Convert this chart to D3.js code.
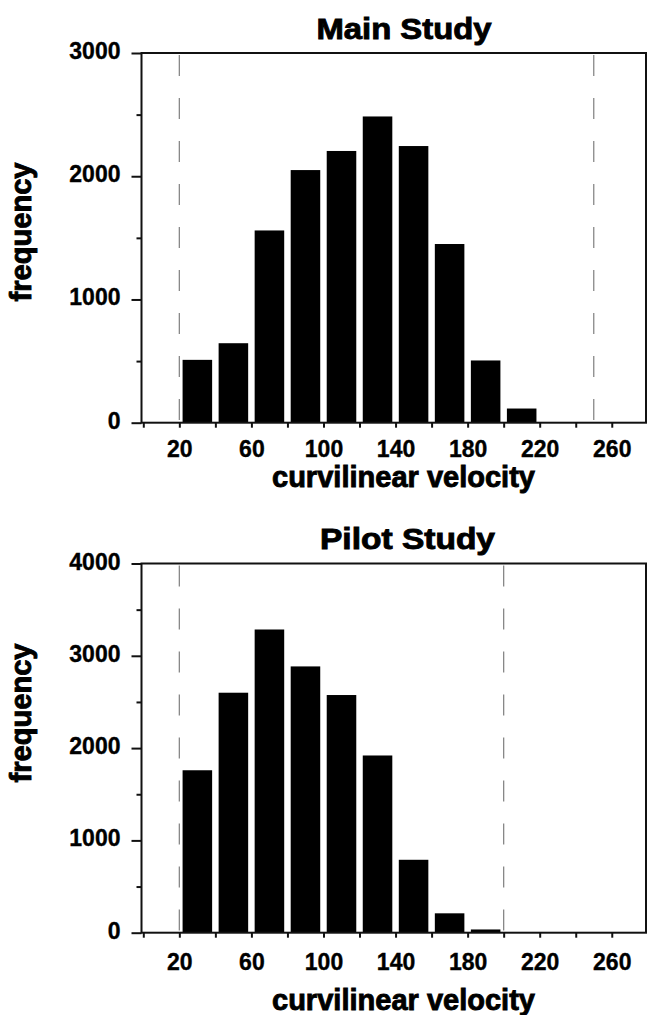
<!DOCTYPE html>
<html>
<head>
<meta charset="utf-8">
<script src="https://cdn.jsdelivr.net/npm/d3@7"></script>
<style>
  html, body { margin: 0; padding: 0; background: #ffffff; }
  svg { display: block; }
  text { font-family: "Liberation Sans", Arial, Helvetica, sans-serif; font-weight: bold; fill: #000; }
</style>
</head>
<body>
<svg id="chart" width="647" height="1015"></svg>
<script>
// ---- data ----
const binStarts = [20, 40, 60, 80, 100, 120, 140, 160, 180, 200];
const binWidth = 20;
const mainCounts = [510, 645, 1560, 2050, 2205, 2485, 2245, 1450, 505, 115];
const pilotCounts = [1760, 2600, 3285, 2885, 2575, 1920, 790, 210, 35];
const mainCutoffs = [20, 250];
const pilotCutoffs = [20, 200];
const xTickValues = [0, 20, 40, 60, 80, 100, 120, 140, 160, 180, 200, 220, 240, 260];
const xTickLabels = [20, 60, 100, 140, 180, 220, 260];
const mainYTicks = [0, 1000, 2000, 3000];
const mainYMinor = [500, 1500, 2500];
const pilotYTicks = [0, 1000, 2000, 3000, 4000];
const pilotYMinor = [500, 1500, 2500, 3500];
const titles = ["Main Study", "Pilot Study"];
const xTitle = "curvilinear velocity";
const yTitle = "frequency";

const svg = d3.select("#chart");

const x = d3.scaleLinear().domain([-1, 279]).range([141.5, 646]);

function drawPanel(cfg) {
  const y = d3.scaleLinear().domain([0, cfg.ymax]).range([cfg.bottom, cfg.top]);
  const g = svg.append("g");

  // bars
  const data = cfg.counts.map((c, i) => ({ x0: binStarts[i], x1: binStarts[i] + binWidth, c }));
  const pad = 1.8;
  g.selectAll("rect.bar").data(data).enter().append("rect")
    .attr("class", "bar")
    .attr("x", d => x(d.x0 + pad))
    .attr("width", d => x(d.x1 - pad) - x(d.x0 + pad))
    .attr("y", d => y(d.c))
    .attr("height", d => y(0) - y(d.c))
    .attr("fill", "#000");

  // dashed cutoff lines
  g.selectAll("line.cut").data(cfg.cutoffs).enter().append("line")
    .attr("x1", d => x(d)).attr("x2", d => x(d))
    .attr("y1", y(cfg.ymax) + 2).attr("y2", y(0))
    .attr("stroke", "#888").attr("stroke-width", 1.3)
    .attr("stroke-dasharray", "21,22");

  // frame
  g.append("rect")
    .attr("x", x(-1)).attr("y", y(cfg.ymax))
    .attr("width", x(279) - x(-1)).attr("height", y(0) - y(cfg.ymax))
    .attr("fill", "none").attr("stroke", "#111").attr("stroke-width", 2);

  // y axis
  const yAxis = d3.axisLeft(y).tickValues(cfg.yTicks).tickSize(10).tickPadding(11).tickFormat(d3.format("d"));
  const ya = g.append("g").attr("transform", `translate(${x(-1)},0)`).call(yAxis);
  ya.select(".domain").remove();
  ya.selectAll(".tick line").attr("stroke", "#111").attr("stroke-width", 2);
  ya.selectAll(".tick text").attr("font-size", 23).attr("dy", null).attr("y", 5.5)
    .attr("stroke", "#000").attr("stroke-width", 0.35)
    .attr("font-family", "Liberation Sans, Arial, sans-serif").attr("font-weight", "bold");
  const yMinorAxis = d3.axisLeft(y).tickValues(cfg.yMinor).tickSize(5).tickFormat("");
  const ym = g.append("g").attr("transform", `translate(${x(-1)},0)`).call(yMinorAxis);
  ym.select(".domain").remove();
  ym.selectAll(".tick line").attr("stroke", "#111").attr("stroke-width", 2);

  // x axis
  const xAxis = d3.axisBottom(x).tickValues(xTickValues).tickSize(5)
    .tickFormat(d => xTickLabels.includes(d) ? d : "");
  const xa = g.append("g").attr("transform", `translate(0,${y(0)})`).call(xAxis);
  xa.select(".domain").remove();
  xa.selectAll(".tick line").attr("stroke", "#111").attr("stroke-width", 2);
  xa.selectAll(".tick text").attr("font-size", 23).attr("dy", null).attr("y", cfg.xLabelOffset)
    .attr("stroke", "#000").attr("stroke-width", 0.35)
    .attr("font-family", "Liberation Sans, Arial, sans-serif").attr("font-weight", "bold");

  // titles
  g.append("text").attr("x", cfg.titleX).attr("y", cfg.titleY)
    .attr("text-anchor", "middle").attr("font-size", 29)
    .attr("textLength", 175).attr("lengthAdjust", "spacingAndGlyphs")
    .attr("stroke", "#000").attr("stroke-width", 0.9)
    .text(cfg.title);
  g.append("text").attr("x", 403.5).attr("y", cfg.xTitleY)
    .attr("text-anchor", "middle").attr("font-size", 30)
    .attr("textLength", 263).attr("lengthAdjust", "spacingAndGlyphs")
    .attr("stroke", "#000").attr("stroke-width", 0.9)
    .text(xTitle);
  g.append("text")
    .attr("transform", `translate(31,${cfg.yTitleY}) rotate(-90)`)
    .attr("text-anchor", "middle").attr("font-size", 29)
    .attr("textLength", 139).attr("lengthAdjust", "spacingAndGlyphs")
    .attr("stroke", "#000").attr("stroke-width", 0.9)
    .text(yTitle);
}

drawPanel({ counts: mainCounts, cutoffs: mainCutoffs, ymax: 3000, top: 53, bottom: 422.7,
  yTicks: mainYTicks, yMinor: mainYMinor, xLabelOffset: 34.5, title: titles[0],
  titleX: 404, titleY: 38.5, xTitleY: 487, yTitleY: 232 });
drawPanel({ counts: pilotCounts, cutoffs: pilotCutoffs, ymax: 4000, top: 563.5, bottom: 932.7,
  yTicks: pilotYTicks, yMinor: pilotYMinor, xLabelOffset: 37.3, title: titles[1],
  titleX: 407.5, titleY: 549, xTitleY: 1010, yTitleY: 713 });
</script>
</body>
</html>
